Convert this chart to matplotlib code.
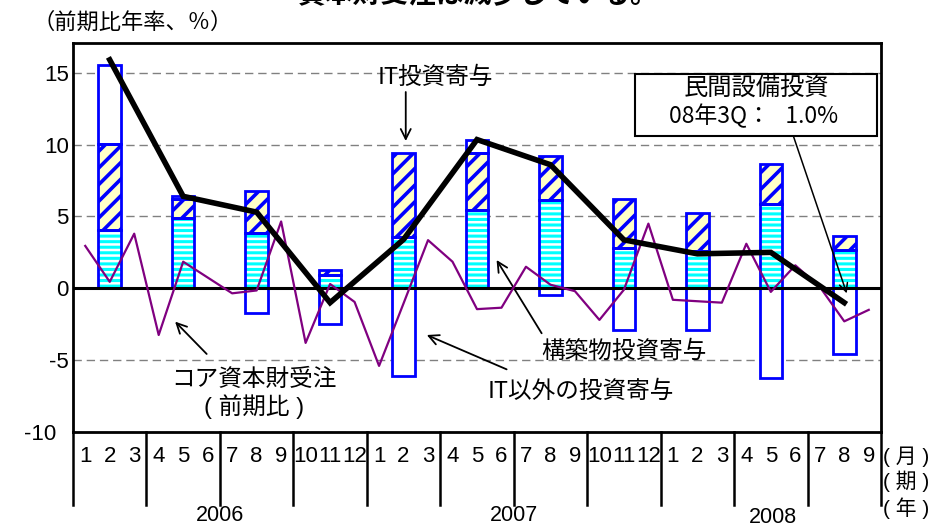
import matplotlib
matplotlib.use('Agg')
import matplotlib.pyplot as plt
from matplotlib.patches import Rectangle
import matplotlib.transforms as mtransforms
import numpy as np

plt.rcParams['font.family'] = ['Liberation Sans', 'Noto Sans CJK JP', 'DejaVu Sans']
CJK = ['Noto Sans CJK JP', 'DejaVu Sans']
NUM = ['Liberation Sans', 'Noto Sans CJK JP']

# ---------------- data ----------------
month_labels = [str(m) for m in range(1, 13)] * 2 + [str(m) for m in range(1, 10)]
year_labels = ['2006', '2007', '2008']
quarters = ['06Q1', '06Q2', '06Q3', '06Q4', '07Q1', '07Q2', '07Q3', '07Q4',
            '08Q1', '08Q2', '08Q3']
# contributions (percentage points)
structures = [4.05, 4.9, 3.85, 0.9, 3.6, 5.45, 6.15, 2.78, 2.6, 5.85, 2.68]
it_contrib = [6.0, 1.3, 2.95, 0.4, 5.85, 3.95, 3.05, 3.42, 2.65, 2.83, 0.98]
non_it = [5.5, 0.2, -1.7, -2.45, -6.1, 0.9, -0.5, -2.87, -2.87, -6.25, -4.57]
# private capex (annualised q/q, %)
capex = [15.9, 6.4, 5.3, -1.0, 3.4, 10.35, 8.6, 3.37, 2.4, 2.5, -1.0]
# core capital goods orders (m/m, %)
core_orders = [2.95, 0.45, 3.8, -3.25, 1.85, 0.75, -0.35, -0.15, 4.65, -3.8, 0.3, -0.95,
               -5.4, -1.05, 3.35, 1.85, -1.45, -1.35, 1.5, 0.25, -0.2, -2.2, -0.1, 4.5,
               -0.8, -0.9, -1.0, 3.1, -0.25, 1.6, 0.1, -2.3, -1.5]

# ---------------- figure ----------------
fig = plt.figure(figsize=(9.42, 5.28), dpi=100)
ax = fig.add_axes([73 / 942, 1 - 432 / 528, 808 / 942, 389 / 528])

n_months = len(core_orders)
xm = np.arange(n_months) + 0.5
xq = np.arange(len(quarters)) * 3 + 1.5
w = 0.92

structures = np.array(structures)
it_contrib = np.array(it_contrib)
non_it = np.array(non_it)

def set_hlw(patches, lw):
    for p in patches:
        if hasattr(p, 'set_hatch_linewidth'):
            p.set_hatch_linewidth(lw)

plt.rcParams['hatch.linewidth'] = 2.2

# structures (cyan stripes)
b1 = ax.bar(xq, structures, width=w, facecolor='white', edgecolor='#00FFFF',
            hatch='---', linewidth=0, zorder=2)
set_hlw(b1, 2.2)
ax.bar(xq, structures, width=w, fill=False, edgecolor='#0000FF', linewidth=2, zorder=2.2)
# IT (diagonal hatch)
b2 = ax.bar(xq, it_contrib, bottom=structures, width=w, facecolor='#FFFFC8',
            edgecolor='#0000FF', hatch='//', linewidth=0, zorder=2)
set_hlw(b2, 2.6)
ax.bar(xq, it_contrib, bottom=structures, width=w, fill=False, edgecolor='#0000FF',
       linewidth=2, zorder=2.2)
# non-IT
non_bottom = np.where(non_it > 0, structures + it_contrib, 0)
ax.bar(xq, non_it, bottom=non_bottom, width=w, facecolor='white', edgecolor='#0000FF',
       linewidth=2, zorder=2.1)

ax.axhline(0, color='black', lw=2.2, zorder=3)
ax.plot(xm, core_orders, color='#800080', lw=1.6, zorder=4)
ax.plot(xq, capex, color='black', lw=4, zorder=5, solid_joinstyle='miter')

ax.set_xlim(0, n_months)
ax.set_ylim(-10, 17.07)
ax.set_xticks([])
yt = [-10, -5, 0, 5, 10, 15]
ax.set_yticks(yt, [str(v) for v in yt])
ax.tick_params(axis='y', length=0, pad=3, labelsize=16)
for lbl in ax.get_yticklabels():
    lbl.set_fontfamily(NUM)
    if lbl.get_text() == '-10':
        lbl.set_transform(lbl.get_transform() +
                          mtransforms.ScaledTranslation(-13 / 100, 0, fig.dpi_scale_trans))
ax.yaxis.grid(True, linestyle=(0, (6, 3.5)), color='#808080', lw=1)
ax.set_axisbelow(True)
for s in ax.spines.values():
    s.set_linewidth(2)

# ---------------- category axis ----------------
tr = ax.get_xaxis_transform()
for x, lab in zip(xm, month_labels):
    ax.text(x, -0.064, lab, transform=tr, ha='center', va='center', fontsize=16,
            family=NUM)
for q in range(0, n_months + 1, 3):
    ax.plot([q, q], [0, -0.1877], transform=tr, color='black', lw=1.8, clip_on=False)
year_x = [6, 18, 28.6]
year_y = [-0.214, -0.215, -0.219]
for x, y, lab in zip(year_x, year_y, year_labels):
    ax.text(x, y, lab, transform=tr, ha='center', va='center', fontsize=15.5, family=NUM)
for y, lab in zip([-0.064, -0.126, -0.195], ['( 月 )', '( 期 )', '( 年 )']):
    ax.text(1.003, y, lab, transform=ax.transAxes, ha='left', va='center', fontsize=15)

# ---------------- titles ----------------
fig.text(0.507, 0.9955, '資本財受注は減少している。', ha='center', va='baseline',
         fontsize=20, weight='bold', family=CJK)
fig.text(33 / 942, 1 - 22 / 528, '（前期比年率、％）', ha='left', va='center',
         fontsize=16, family=CJK)

# ---------------- annotations ----------------
arw = dict(arrowstyle='->', color='black', lw=1.3, mutation_scale=18, shrinkA=0, shrinkB=0)
FS = 17
ax.text(14.78, 14.65, 'IT投資寄与', ha='center', va='center', fontsize=FS, family=CJK)
ax.annotate('', xy=(13.59, 10.25), xytext=(13.59, 13.66), arrowprops=arw)

ax.text(22.5, -4.42, '構築物投資寄与', ha='center', va='center', fontsize=FS, family=CJK)
ax.annotate('', xy=(17.30, 1.97), xytext=(19.14, -3.13), arrowprops=arw)

ax.text(20.75, -7.15, 'IT以外の投資寄与', ha='center', va='center', fontsize=FS, family=CJK)
ax.annotate('', xy=(14.45, -3.25), xytext=(17.71, -5.64), arrowprops=arw)

ax.text(7.39, -6.38, 'コア資本財受注', ha='center', va='center', fontsize=FS, family=CJK)
ax.text(7.39, -8.26, '( 前期比 )', ha='center', va='center', fontsize=FS)
ax.annotate('', xy=(4.17, -2.32), xytext=(5.46, -4.57), arrowprops=arw)

box = Rectangle((22.95, 10.6), 32.84 - 22.95, 14.91 - 10.6, facecolor='white',
                edgecolor='black', lw=1.5, zorder=6)
ax.add_patch(box)
ax.text(27.9, 13.92, '民間設備投資', ha='center', va='center', fontsize=17.5,
        family=CJK, zorder=7)
ax.text(27.8, 11.99, '08年3Q：   1.0%', ha='center', va='center', fontsize=16.5,
        family=CJK, zorder=7)
ax.annotate('', xy=(31.6, -0.35), xytext=(29.42, 10.6),
            arrowprops=dict(arrowstyle='->', color='black', lw=1.1, mutation_scale=15,
                            shrinkA=0, shrinkB=0), zorder=7)

fig.savefig('out.png', dpi=100)
